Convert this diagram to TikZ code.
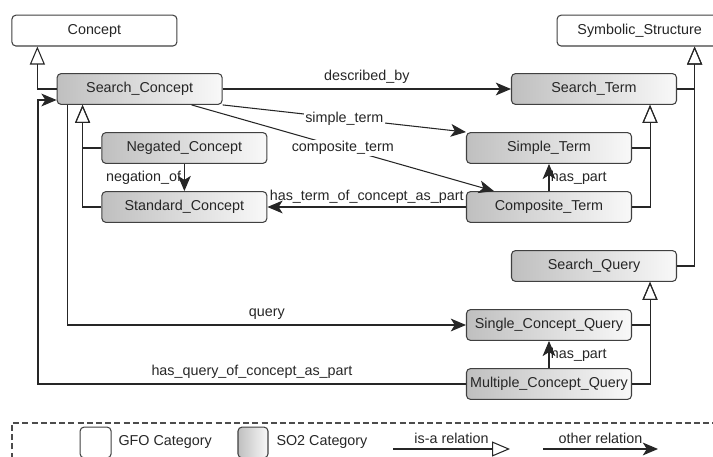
\documentclass[tikz,border=0pt]{standalone}
\usepackage{fontspec}
\setmainfont{Liberation Sans}
\usetikzlibrary{calc,arrows.meta}

\begin{document}
\begin{tikzpicture}[font=\fontsize{10.2}{12}\selectfont,line width=0.75pt,text=black!85,
  cat/.style={draw=black!75,rounded corners=0.1cm,minimum width=4.125cm,minimum height=0.77cm,inner sep=0pt},
  gfo/.style={cat,fill=white},
  sotwo/.style={cat,left color=gray!50,right color=gray!5},
  isa/.style={draw=black!85,-{Triangle[open,length=0.45cm,width=0.375cm]}},
  rel/.style={draw=black!85,-{Stealth[length=0.38cm,width=0.32cm,inset=0.1cm]}},
  lbl/.style={fill=white,inner sep=1pt}]
\useasboundingbox (0,0) rectangle (17.825,11.425);
\clip (0,0) rectangle (17.825,11.425);
% Kategorien
\node[gfo] (concept) at (2.36,10.66) {Concept};
\node[gfo] (symb) at (15.99,10.66) {Symbolic\_Structure};
\node[sotwo] (sc) at (3.49,9.2) {Search\_Concept};
\node[sotwo] (neg) at (4.61,7.725) {Negated\_Concept};
\node[sotwo] (std) at (4.61,6.25) {Standard\_Concept};
\node[sotwo] (sterm) at (14.85,9.2) {Search\_Term};
\node[sotwo] (simple) at (13.725,7.725) {Simple\_Term};
\node[sotwo] (comp) at (13.725,6.25) {Composite\_Term};
\node[sotwo] (squery) at (14.85,4.775) {Search\_Query};
\node[sotwo] (scq) at (13.725,3.3) {Single\_Concept\_Query};
\node[sotwo] (mcq) at (13.725,1.825) {Multiple\_Concept\_Query};
% is-a
\draw[isa] (sc.west) -| ($(concept.south west)+(0.65,0)$);
\draw[isa] (neg.west) -| ($(sc.south west)+(0.65,0)$); \draw[isa] (std.west) -| ($(sc.south west)+(0.65,0)$);
\draw[isa] (simple.east) -| ($(sterm.south east)+(-0.675,0)$); \draw[isa] (comp.east) -| ($(sterm.south east)+(-0.675,0)$);
\draw[isa] (sterm.east) -| ($(symb.south east)+(-0.7,0)$); \draw[isa] (squery.east) -| ($(symb.south east)+(-0.7,0)$);
\draw[isa] (scq.east) -| ($(squery.south east)+(-0.675,0)$); \draw[isa] (mcq.east) -| ($(squery.south east)+(-0.675,0)$);
% Relationen
\draw[rel] (sc.east) -- node[above]{described\_by} (sterm.west);
\draw[rel] (sc.south east) -- node[lbl]{simple\_term} (simple.north west);
\draw[rel] ($(sc.south)+(1.3,0)$) -- node[lbl]{composite\_term} ($(comp.north west)+(0.7,0)$);
\draw[rel] (neg) -- node[left,inner sep=2pt]{negation\_of} (std);
\draw[rel] (comp) -- node[above,inner sep=2pt]{has\_term\_of\_concept\_as\_part} (std);
\draw[rel] (comp) -- node[right,inner sep=1pt]{has\_part} (simple);
\draw[rel] ($(sc.south west)+(0.275,0)$) |- node[pos=0.75,above]{query} (scq.west);
\draw[rel] (mcq.west) -- node[above]{has\_query\_of\_concept\_as\_part} ++(-10.7,0) |- ($(sc.west)+(0,-0.275)$);
\draw[rel] (mcq) -- node[right,inner sep=1pt]{has\_part} (scq);
% Legende
\draw[black!70,dash pattern=on 0.15cm off 0.08cm] (0.3,-0.5) -- (0.3,0.85) -- (18,0.85);
\node[gfo,minimum width=0.775cm] (lgfo) at (2.39,0.3625) {};
\node[anchor=west,inner sep=0pt] (tgfo) at (2.95,0.375) {GFO Category};
\node[sotwo,minimum width=0.75cm] (lso) at (6.325,0.3625) {};
\node[anchor=west,inner sep=0pt] (tso) at (6.9,0.375) {SO2 Category};
\coordinate (isaa) at (9.825,0.2); \coordinate (isab) at (12.75,0.2);
\draw[isa] (isaa) -- node[above]{is-a relation} (isab);
\coordinate (rela) at (13.575,0.2); \coordinate (relb) at (16.45,0.2);
\draw[rel] (rela) -- node[above]{other relation} (relb);
\end{tikzpicture}
\end{document}
